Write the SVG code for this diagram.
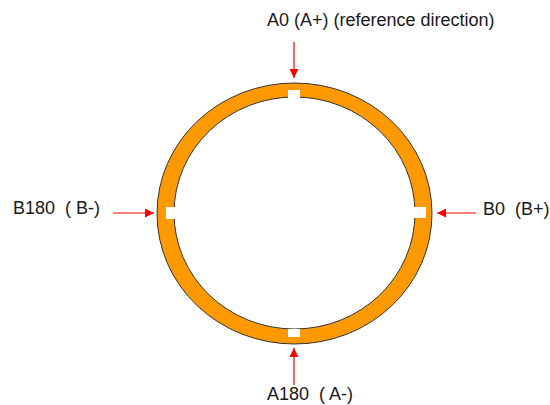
<svg xmlns="http://www.w3.org/2000/svg" width="550" height="405" viewBox="0 0 550 405">
<defs>
<style>
text{font-family:"Liberation Sans",Arial,sans-serif;font-size:18px;fill:#1a1a1a;white-space:pre}
.arr{stroke:#ff0000;stroke-width:1.2;fill:none;marker-end:url(#ah)}
.notch{fill:#ffffff}
</style>
<marker id="ah" viewBox="0 0 10 10" refX="10" refY="5" markerWidth="9" markerHeight="9" markerUnits="userSpaceOnUse" orient="auto">
<path d="M0,0 L10,5 L0,10 z" fill="#ff0000"/>
</marker>
</defs>
<rect width="550" height="405" fill="#ffffff"/>
<g id="ring">
<ellipse cx="294.5" cy="213.5" rx="137.5" ry="130.5" fill="#ff9900" stroke="#333333" stroke-width="1"/>
<ellipse cx="294.5" cy="213" rx="120.5" ry="116" fill="#ffffff" stroke="#333333" stroke-width="1"/>
<rect class="notch" x="288" y="90" width="12" height="8"/>
<rect class="notch" x="288" y="329" width="12" height="8"/>
<rect class="notch" x="166" y="207" width="9" height="12"/>
<rect class="notch" x="414" y="207" width="12" height="11"/>
</g>
<g id="connectors">
<line class="arr" x1="294" y1="42" x2="294" y2="78"/>
<line class="arr" x1="294" y1="385" x2="294" y2="348"/>
<line class="arr" x1="113" y1="213" x2="154" y2="213"/>
<line class="arr" x1="476" y1="213" x2="437" y2="213"/>
</g>
<g id="label-a0"><text x="267" y="26">A0 (A+) (reference direction)</text></g>
<g id="label-b180"><text x="13" y="214">B180  ( B-)</text></g>
<g id="label-b0"><text x="483" y="215">B0  (B+)</text></g>
<g id="label-a180"><text x="267" y="400">A180  ( A-)</text></g>
</svg>
